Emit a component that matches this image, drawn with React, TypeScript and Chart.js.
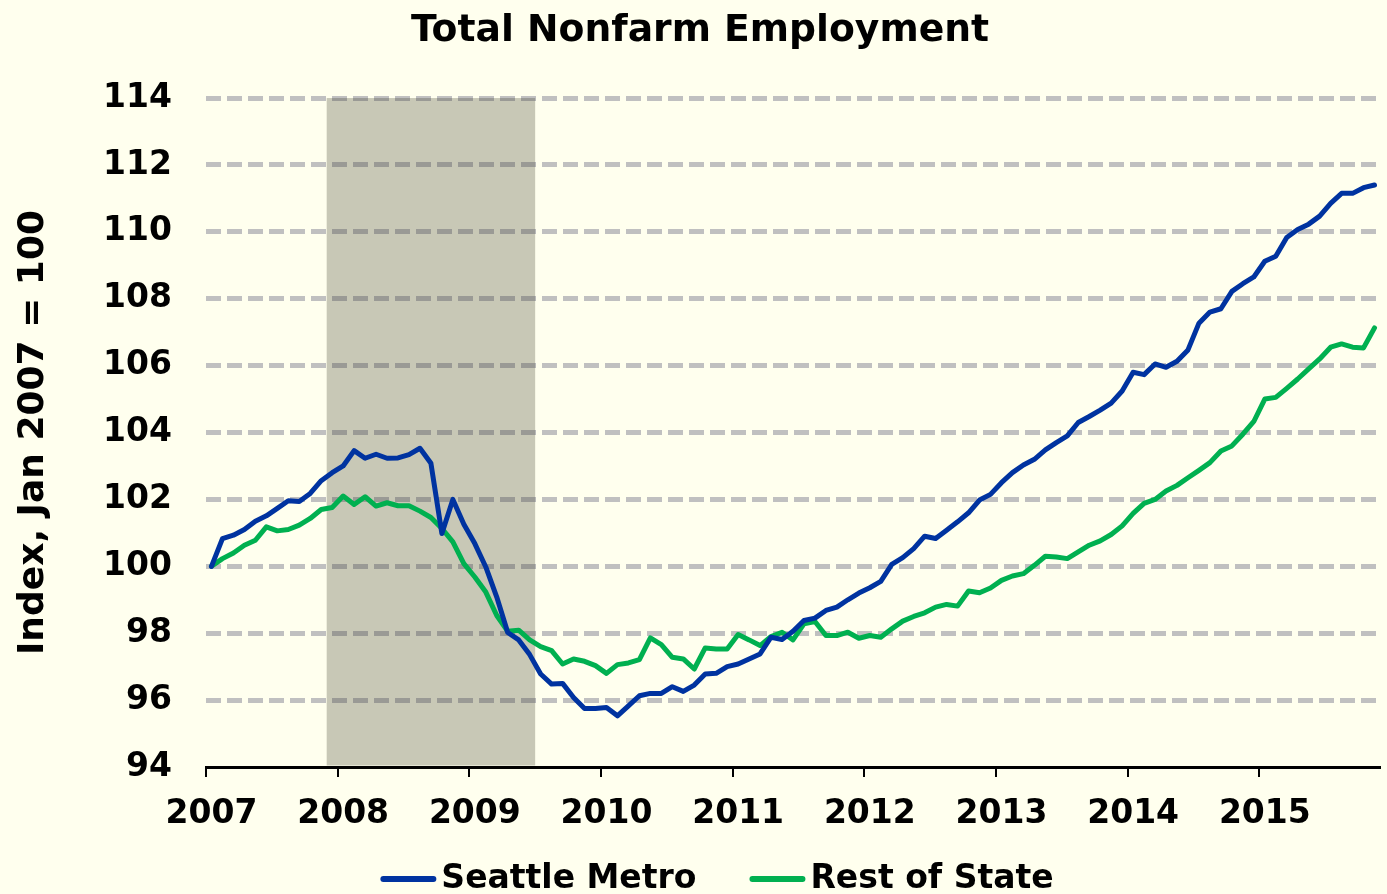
import { useEffect, useRef } from "react";
import { Chart, registerables } from "chart.js";

Chart.register(...registerables);

// Year tick labels (one per January, Jan 2007 .. Jan 2015)
const YEAR_LABELS = ["2007", "2008", "2009", "2010", "2011", "2012", "2013", "2014", "2015"];

// Monthly index values, Jan 2007 .. Nov 2015 (Jan 2007 = 100)
const SEATTLE_METRO = [
  100.0, 100.83, 100.93, 101.1, 101.35, 101.51, 101.73, 101.96, 101.94, 102.18, 102.56, 102.8,
  103.0, 103.46, 103.23, 103.35, 103.23, 103.24, 103.34, 103.53, 103.08, 100.98, 102.0, 101.26,
  100.68, 99.98, 99.08, 98.02, 97.8, 97.36, 96.78, 96.48, 96.5, 96.08, 95.75, 95.75,
  95.78, 95.53, 95.83, 96.13, 96.2, 96.2, 96.4, 96.26, 96.45, 96.78, 96.8, 97.0,
  97.08, 97.23, 97.38, 97.88, 97.81, 98.06, 98.38, 98.45, 98.68, 98.78, 99.0, 99.2,
  99.36, 99.55, 100.06, 100.26, 100.53, 100.9, 100.83, 101.08, 101.33, 101.6, 101.98, 102.15,
  102.5, 102.8, 103.03, 103.2, 103.48, 103.7, 103.9, 104.3, 104.48, 104.67, 104.88, 105.24,
  105.8, 105.73, 106.05, 105.95, 106.13, 106.47, 107.27, 107.6, 107.7, 108.22, 108.45, 108.65,
  109.12, 109.27, 109.83, 110.07, 110.23, 110.47, 110.85, 111.15, 111.15, 111.32, 111.4,
];

const REST_OF_STATE = [
  100.0, 100.23, 100.4, 100.63, 100.78, 101.18, 101.06, 101.1, 101.23, 101.43, 101.7, 101.76,
  102.1, 101.85, 102.08, 101.8, 101.9, 101.81, 101.81, 101.65, 101.46, 101.13, 100.73, 100.08,
  99.68, 99.23, 98.53, 98.06, 98.09, 97.8, 97.6, 97.48, 97.08, 97.23, 97.16, 97.03,
  96.8, 97.06, 97.11, 97.21, 97.86, 97.66, 97.28, 97.23, 96.93, 97.56, 97.53, 97.53,
  97.96, 97.8, 97.63, 97.9, 98.03, 97.8, 98.28, 98.35, 97.93, 97.93, 98.03, 97.85,
  97.93, 97.88, 98.13, 98.36, 98.5, 98.61, 98.78, 98.86, 98.81, 99.26, 99.21, 99.35,
  99.58, 99.71, 99.78, 100.03, 100.3, 100.28, 100.23, 100.43, 100.63, 100.76, 100.95, 101.21,
  101.58, 101.88, 102.0, 102.25, 102.42, 102.65, 102.87, 103.1, 103.45, 103.6, 103.95, 104.33,
  105.0, 105.05, 105.32, 105.6, 105.9, 106.2, 106.55, 106.65, 106.55, 106.53, 107.13,
];

// Recession months (first and last month index): Dec 2007 .. Jun 2009
const RECESSION_MONTHS = [11, 29];

const SERIES_LABELS = ["Seattle Metro", "Rest of State"];
const SERIES_COLORS = ["#0033A0", "#00B050"];

const FONT = "'DejaVu Sans', Verdana, sans-serif";
const BG = "#FFFFEE";

const backgroundPlugin = {
  id: "cream",
  beforeDraw(chart: any) {
    const { ctx } = chart;
    ctx.save();
    ctx.fillStyle = BG;
    ctx.fillRect(0, 0, chart.width, chart.height);
    ctx.restore();
  },
};

const recessionPlugin = {
  id: "recession",
  beforeDatasetsDraw(chart: any) {
    const { ctx, chartArea, scales } = chart;
    const x0 = scales.x.getPixelForValue(RECESSION_MONTHS[0] - 0.5);
    const x1 = scales.x.getPixelForValue(RECESSION_MONTHS[1] + 0.5);
    ctx.save();
    ctx.fillStyle = "rgba(50,50,35,0.27)";
    ctx.fillRect(x0, chartArea.top, x1 - x0, chartArea.bottom - chartArea.top - 1.5);
    ctx.restore();
  },
};

const lineLegendPlugin = {
  id: "lineLegend",
  afterDraw(chart: any, _args: any, opts: any) {
    const { ctx } = chart;
    ctx.save();
    ctx.font = `bold ${opts.fontSize}px ${FONT}`;
    const items = chart.data.datasets.map((ds: any) => ({
      label: ds.label as string,
      color: ds.borderColor as string,
      w: ctx.measureText(ds.label).width,
    }));
    const total =
      items.reduce((s: number, it: any) => s + opts.lineLen + opts.textGap + it.w, 0) +
      opts.itemGap * (items.length - 1);
    let x = opts.centerX - total / 2;
    const y = opts.y;
    for (const it of items) {
      ctx.strokeStyle = it.color;
      ctx.lineWidth = opts.lineWidth;
      ctx.lineCap = "round";
      ctx.beginPath();
      ctx.moveTo(x + opts.lineWidth / 2, y);
      ctx.lineTo(x + opts.lineLen - opts.lineWidth / 2, y);
      ctx.stroke();
      ctx.fillStyle = "#000";
      ctx.textAlign = "left";
      ctx.textBaseline = "middle";
      ctx.fillText(it.label, x + opts.lineLen + opts.textGap, y);
      x += opts.lineLen + opts.textGap + it.w + opts.itemGap;
    }
    ctx.restore();
  },
};

export default function App() {
  const canvasRef = useRef<HTMLCanvasElement | null>(null);

  useEffect(() => {
    const canvas = canvasRef.current;
    if (!canvas) return;
    const seriesData = [SEATTLE_METRO, REST_OF_STATE];
    const chart = new Chart(canvas, {
      type: "line",
      data: {
        datasets: seriesData.map((values, s) => ({
          label: SERIES_LABELS[s],
          data: values.map((v, i) => ({ x: i, y: v })),
          borderColor: SERIES_COLORS[s],
          backgroundColor: SERIES_COLORS[s],
          borderWidth: 5,
          pointRadius: 0,
          pointHoverRadius: 0,
          tension: 0,
          fill: false,
          borderJoinStyle: "round",
          borderCapStyle: "round",
        })),
      },
      options: {
        animation: false,
        responsive: false,
        maintainAspectRatio: false,
        events: [],
        layout: { padding: { left: 20, right: 7, top: 0, bottom: 0 } },
        plugins: {
          legend: { display: false },
          tooltip: { enabled: false },
          title: {
            display: true,
            text: "Total Nonfarm Employment",
            color: "#000",
            font: { family: FONT, size: 37.7, weight: "bold" },
            padding: { top: 9, bottom: 43.8 },
          },
          lineLegend: {
            fontSize: 33,
            lineLen: 56,
            lineWidth: 6,
            textGap: 5,
            itemGap: 53,
            centerX: 717,
            y: 879,
          },
        } as any,
        scales: {
          x: {
            type: "linear",
            min: -0.5,
            max: SEATTLE_METRO.length - 0.5,
            bounds: "data",
            afterBuildTicks: (scale: any) => {
              scale.ticks = YEAR_LABELS.map((_, k) => ({ value: -0.5 + 12 * k }));
            },
            afterFit: (scale: any) => {
              scale.height = 127;
            },
            ticks: {
              autoSkip: false,
              maxRotation: 0,
              minRotation: 0,
              labelOffset: 5.5,
              padding: 18,
              color: "#000",
              font: { family: FONT, size: 33, weight: "bold" },
              callback: (_v: any, idx: number) => YEAR_LABELS[idx],
            },
            grid: {
              display: true,
              drawOnChartArea: false,
              drawTicks: true,
              tickLength: 10,
              color: "#000",
              lineWidth: 2,
            },
            border: { display: true, color: "#000", width: 3 },
          },
          y: {
            min: 94,
            max: 114,
            afterFit: (scale: any) => {
              scale.width = 186;
            },
            ticks: {
              stepSize: 2,
              padding: 34,
              color: "#000",
              font: { family: FONT, size: 33, weight: "bold" },
            },
            grid: {
              drawTicks: false,
              lineWidth: 5,
              color: (c: any) => (c.tick && c.tick.value === 94 ? "rgba(0,0,0,0)" : "#C0C0C0"),
            },
            border: { display: false, dash: [15, 6] },
            title: {
              display: true,
              text: "Index, Jan 2007 = 100",
              color: "#000",
              font: { family: FONT, size: 36, weight: "bold" },
              padding: { top: -8, bottom: 0 },
            },
          },
        },
      } as any,
      plugins: [backgroundPlugin, recessionPlugin, lineLegendPlugin],
    });
    return () => chart.destroy();
  }, []);

  return (
    <div style={{ position: "fixed", left: 0, top: 0, width: 1387, height: 894, background: BG }}>
      <canvas ref={canvasRef} width={1387} height={894} style={{ display: "block", width: 1387, height: 894 }} />
    </div>
  );
}
